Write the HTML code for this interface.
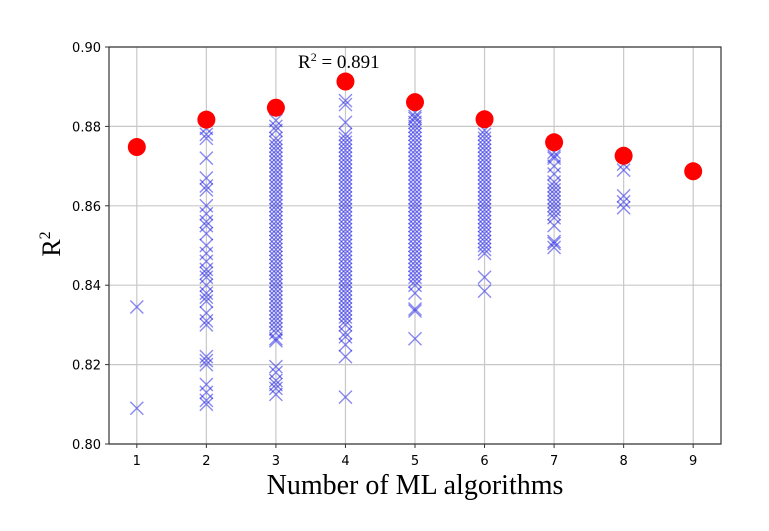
<!DOCTYPE html>
<html><head><meta charset="utf-8"><style>
html,body{margin:0;padding:0;background:#fff;}
svg{display:block;}
</style></head><body>
<svg id="chart" width="769" height="531" xmlns="http://www.w3.org/2000/svg">
<g id="grid"></g>
<g id="marks"></g>
<rect x="109" y="47" width="612" height="397" fill="none" stroke="#333" stroke-width="1.2"/>
<g id="ticks"></g>
<text transform="translate(60,244) rotate(-90)" text-anchor="middle" font-family="Liberation Serif, serif" font-size="26">R<tspan font-size="16" dy="-10">2</tspan></text>
<text x="415" y="494" text-anchor="middle" font-family="Liberation Serif, serif" font-size="28">Number of ML algorithms</text>
<text x="298" y="68" font-family="Liberation Serif, serif" font-size="19">R<tspan font-size="12" dy="-7">2</tspan><tspan dy="7"> = 0.891</tspan></text>
</svg>
<script>
const categories = [1,2,3,4,5,6,7,8,9];
const bestValues = [0.8748,0.8817,0.8847,0.8913,0.8861,0.8818,0.8760,0.8726,0.8687];
const col1 = [0.8345,0.809];
const col2 = [0.8795,0.878,0.877,0.872,0.867,0.865,0.864,0.860,0.858,0.856,0.855,0.853,0.850,0.848,0.846,0.844,0.843,0.842,0.840,0.838,0.837,0.836,0.833,0.831,0.830,0.822,0.821,0.820,0.815,0.813,0.811,0.810];
const col3 = [0.8815,0.880,0.879,0.877,0.876,0.875,0.874,0.873,0.872,0.871,0.870,0.869,0.868,0.867,0.866,0.865,0.864,0.863,0.862,0.861,0.860,0.859,0.858,0.857,0.856,0.855,0.854,0.853,0.852,0.851,0.850,0.849,0.848,0.847,0.846,0.845,0.844,0.843,0.842,0.841,0.840,0.839,0.838,0.837,0.836,0.835,0.834,0.833,0.832,0.831,0.830,0.829,0.828,0.8265,0.826,0.8195,0.818,0.816,0.815,0.814,0.8125];
const col4 = [0.8865,0.8855,0.881,0.878,0.877,0.876,0.875,0.874,0.873,0.872,0.871,0.870,0.869,0.868,0.867,0.866,0.865,0.864,0.863,0.862,0.861,0.860,0.859,0.858,0.857,0.856,0.855,0.854,0.853,0.852,0.851,0.850,0.849,0.848,0.847,0.846,0.845,0.844,0.843,0.842,0.841,0.840,0.839,0.838,0.837,0.836,0.835,0.834,0.833,0.832,0.831,0.830,0.828,0.827,0.825,0.822,0.8118];
const col5 = [0.8835,0.8825,0.882,0.881,0.880,0.879,0.878,0.877,0.876,0.875,0.874,0.873,0.872,0.871,0.870,0.869,0.868,0.867,0.866,0.865,0.864,0.863,0.862,0.861,0.860,0.859,0.858,0.857,0.856,0.855,0.854,0.853,0.852,0.851,0.850,0.849,0.848,0.847,0.846,0.845,0.844,0.843,0.842,0.841,0.840,0.838,0.834,0.8335,0.8265];
const col6 = [0.879,0.878,0.877,0.876,0.875,0.874,0.873,0.872,0.871,0.870,0.869,0.868,0.867,0.866,0.865,0.864,0.863,0.862,0.861,0.860,0.859,0.858,0.857,0.856,0.855,0.854,0.853,0.852,0.851,0.850,0.849,0.848,0.842,0.8385];
const col7 = [0.8735,0.8725,0.872,0.870,0.868,0.866,0.865,0.864,0.863,0.862,0.861,0.860,0.859,0.858,0.857,0.855,0.851,0.8505,0.8495];
const col8 = [0.8705,0.869,0.8625,0.861,0.8595];
const col9 = [];
const columns = [col1,col2,col3,col4,col5,col6,col7,col8,col9];
const yTicks = ["0.80","0.82","0.84","0.86","0.88","0.90"];

const NS="http://www.w3.org/2000/svg";
const L=109,R=721,T=47,B=444,xMin=0.6,xMax=9.4,yMin=0.80,yMax=0.90;
const sx=v=>L+(v-xMin)/(xMax-xMin)*(R-L);
const sy=v=>B-(v-yMin)/(yMax-yMin)*(B-T);
function mk(tag,attrs,parent){const e=document.createElementNS(NS,tag);for(const k in attrs)e.setAttribute(k,attrs[k]);parent.appendChild(e);return e;}
const grid=document.getElementById('grid'),marks=document.getElementById('marks'),ticks=document.getElementById('ticks');
categories.forEach(c=>{
  const x=sx(c);
  const g=mk('line',{x1:x,x2:x,y1:T,y2:B,stroke:'#c8c8c8','stroke-width':1.2},grid);
  
  
  const t=mk('line',{x1:x,x2:x,y1:B,y2:B+4,stroke:'#333'},ticks);
  
  
  const lb=mk('text',{x:x,y:B+21,'text-anchor':'middle','font-family':'DejaVu Sans, sans-serif','font-size':13},ticks);
  lb.textContent=c;
  
  
});
yTicks.forEach(s=>{
  const y=sy(parseFloat(s));
  const g=mk('line',{x1:L,x2:R,y1:y,y2:y,stroke:'#c8c8c8','stroke-width':1.2},grid);
  
  
  const t=mk('line',{x1:L-4,x2:L,y1:y,y2:y,stroke:'#333'},ticks);
  
  
  const lb=mk('text',{x:L-8,y:y+5,'text-anchor':'end','font-family':'DejaVu Sans, sans-serif','font-size':13},ticks);
  lb.textContent=s;
  
  
});
columns.forEach((col,i)=>{
  const x=sx(categories[i]);
  col.forEach(v=>{
    const y=sy(v),d=6.5;
    const p=mk('path',{d:`M${x-d},${y-d}L${x+d},${y+d}M${x-d},${y+d}L${x+d},${y-d}`,stroke:'rgba(20,20,230,0.5)','stroke-width':1.4,fill:'none'},marks);
    
    
  });
});
bestValues.forEach((v,i)=>{
  const c=mk('circle',{cx:sx(categories[i]),cy:sy(v),r:9,fill:'#f00'},marks);
  
  
});
</script>
</body></html>
